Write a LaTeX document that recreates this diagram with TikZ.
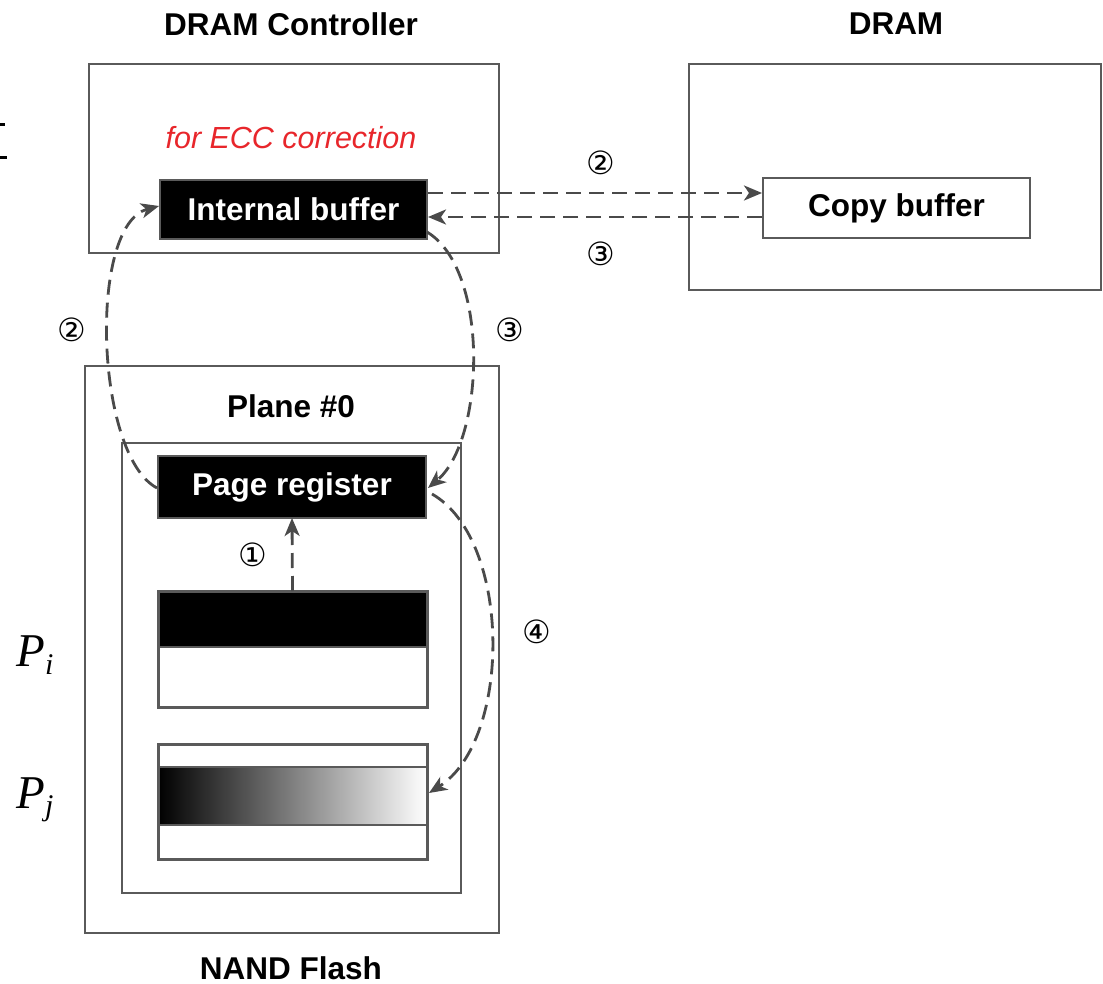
\documentclass[tikz,border=0pt]{standalone}
\usepackage{fontspec}
\setmainfont{Liberation Sans}
\newfontfamily\circfont{DejaVu Sans}
\newfontfamily\tmsfont{Liberation Serif}
\usetikzlibrary{arrows.meta}
\definecolor{boxgray}{HTML}{5A5A5A}
\definecolor{arrgray}{HTML}{4A4A4A}
\definecolor{eccred}{HTML}{E8262B}
\begin{document}
\begin{tikzpicture}[x=1pt,y=-1pt,
  frame/.style={draw=boxgray,line width=2.3pt,fill=none,inner sep=0pt,outer sep=0pt},
  blackbox/.style={draw=boxgray,line width=2pt,fill=black,text=white,inner sep=0pt,outer sep=0pt,font=\fontsize{31.5}{36}\selectfont\bfseries},
  whitebox/.style={draw=boxgray,line width=2pt,fill=white,inner sep=0pt,outer sep=0pt,font=\fontsize{31.5}{36}\selectfont\bfseries},
  title/.style={font=\fontsize{31.5}{36}\selectfont\bfseries,inner sep=0pt},
  circ/.style={font=\circfont\fontsize{32}{34}\selectfont,inner sep=0pt},
  flow/.style={draw=arrgray,line width=2.8pt,dash pattern=on 15pt off 8pt,-{Stealth[length=18pt,width=15pt,inset=5pt]}},
  plabel/.style={font=\tmsfont\itshape\fontsize{47}{50}\selectfont,inner sep=0pt}]
\useasboundingbox (0,0) rectangle (1103,984);
\fill[white] (0,0) rectangle (1103,984);

% stray marks at top-left
\draw[black,line width=3pt] (0,125) -- (5,125);
\draw[black,line width=3pt] (0,158) -- (7,158);

% titles
\node[title] (tctrl) at (291,24) {DRAM Controller};
\node[title] (tdram) at (896,24) {DRAM};
\node[title] (tnand) at (291,968) {NAND Flash};

% DRAM controller
\node[frame,minimum width=410pt,minimum height=189pt] (ctrl) at (294,158.5) {};
\node[font=\fontsize{30.5}{36}\selectfont\itshape,text=eccred,inner sep=0pt] (ecc) at (291,138) {for ECC correction};
\node[blackbox,minimum width=267pt,minimum height=59pt] (ib) at (293.5,209.5) {Internal buffer};

% DRAM
\node[frame,minimum width=412pt,minimum height=226pt] (dram) at (895,177) {};
\node[whitebox,minimum width=267pt,minimum height=60pt] (cb) at (896.5,208) {Copy buffer};

% NAND flash
\node[frame,minimum width=414pt,minimum height=567pt] (nand) at (292,649.5) {};
\node[title] (plane) at (291,406) {Plane \#0};
\node[frame,minimum width=339pt,minimum height=450pt] (pl) at (291.5,668) {};
\node[blackbox,minimum width=268pt,minimum height=62pt] (pr) at (292,487) {Page register};

% Pi block
\fill[black] (158,591) rectangle (427,647);
\draw[boxgray,line width=1.8pt] (158,647) -- (427,647);
\node[frame,line width=3pt,minimum width=269pt,minimum height=116pt] (pi) at (292.5,649) {};
% Pj block
\shade[left color=black,right color=white] (158,767) rectangle (427,825);
\draw[boxgray,line width=1.8pt] (158,767) -- (427,767) (158,825) -- (427,825);
\node[frame,line width=3pt,minimum width=269pt,minimum height=115pt] (pj) at (292.5,801.5) {};

\node[plabel] (lpi) at (35,655) {P\raisebox{-0.35ex}{\fontsize{30}{30}\selectfont i}};
\node[plabel] (lpj) at (35,800) {P\raisebox{-0.35ex}{\fontsize{30}{30}\selectfont j}};

% coordinates for connectors
\coordinate (ibr1) at (428,193);
\coordinate (ibr2) at (428,217);
\coordinate (cbl1) at (762,193);
\coordinate (cbl2) at (762,217);
\coordinate (ibw) at (159,206);
\coordinate (ibse) at (427,232);
\coordinate (prw) at (157,488);
\coordinate (pre) at (428,488);
\coordinate (pre2) at (432,494);
\coordinate (pjr) at (429,793);

% arrows
\draw[flow] (ibr1) -- (cbl1);
\draw[flow] (cbl2) -- (ibr2);
\draw[flow] (pi.north) -- (pr.south);
\draw[flow] (prw) .. controls (95,455) and (88,225) .. (ibw);
\draw[flow] (ibse) .. controls (490,270) and (485,440) .. (pre);
\draw[flow] (pre2) .. controls (512,540) and (512,740) .. (pjr);

% step labels
\node[circ] (s2a) at (601,163) {②};
\node[circ] (s3a) at (601,254) {③};
\node[circ] (s2b) at (72,330) {②};
\node[circ] (s3b) at (510,330) {③};
\node[circ] (s1) at (253,555) {①};
\node[circ] (s4) at (537,632) {④};
\end{tikzpicture}
\end{document}
